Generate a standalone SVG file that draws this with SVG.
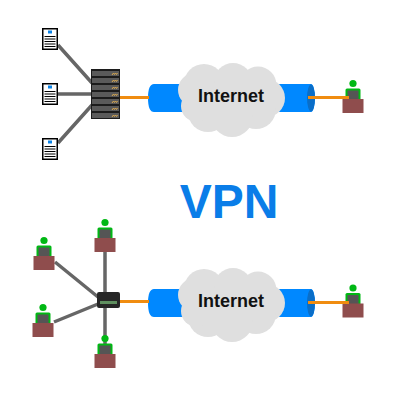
<svg xmlns="http://www.w3.org/2000/svg" width="400" height="400" viewBox="0 0 400 400">
<style>
.link{stroke:#666;stroke-width:3.5;fill:none}
.wan{stroke:#f08c10;stroke-width:3;fill:none}
.t{font-family:"Liberation Sans",Arial,sans-serif;font-weight:bold;text-anchor:middle}
.row{fill:#5a5a5a}
.led{fill:none;stroke:#d8a850;stroke-width:1}
.ln{stroke:#000;stroke-width:1}
</style>
<defs>
<g id="doc">
<rect x="0.75" y="0.75" width="14.5" height="20.5" fill="#fff" stroke="#000" stroke-width="1.5"/>
<rect x="6" y="2.500" width="4" height="3" fill="#0a84e8"/>
<path class="ln" d="M2.500 8.500H13.500M2.500 11H13.500M2.500 13.500H13.500M2.500 16H13.500M2.500 18.500H13.500"/>
</g>
<g id="person">
<circle cx="0" cy="0" r="3.600" fill="#00b814"/>
<path d="M-7.500 16V6.500Q-7.500 5 -6 5H6Q7.500 5 7.500 6.500V16Z" fill="#00b814"/>
<rect x="-5.500" y="7" width="11" height="9" fill="#555"/>
<rect x="-10.500" y="15.500" width="21" height="14" fill="#8f4d4d"/>
</g>
<g id="tunnel">
<path d="M154 84H311A4 14 0 0 1 311 112H154Q148 112 148 98Q148 84 154 84Z" fill="#0088ff"/>
<ellipse cx="311" cy="98" rx="4" ry="13.500" fill="#0a6ec8"/>
<g fill="#dfdfdf">
<circle cx="204" cy="84" r="20"/><circle cx="233" cy="82" r="19"/><circle cx="258" cy="85" r="18.500"/>
<circle cx="266" cy="98" r="19"/><circle cx="256" cy="109" r="20"/><circle cx="232" cy="116" r="21"/>
<circle cx="208" cy="112" r="20"/><circle cx="197" cy="106" r="16"/><circle cx="195" cy="90" r="17"/>
<rect x="200" y="85" width="60" height="30"/>
</g>
<text class="t" x="231" y="102" font-size="18" fill="#111">Internet</text>
</g>
</defs>
<g id="connectors">
<path class="link" d="M58 45L92 83M58 94H92M58 143L92 105"/>
<path class="link" d="M105 252V300M55 262L98 297M54 322L98 304M105 300V345"/>
</g>
<g id="doc1"><use href="#doc" x="42" y="28"/></g>
<g id="doc2"><use href="#doc" x="42" y="83"/></g>
<g id="doc3"><use href="#doc" x="42" y="138"/></g>
<g id="internet1"><use href="#tunnel"/></g>
<g id="internet2"><use href="#tunnel" y="205"/></g>
<g id="person1"><use href="#person" x="353" y="83.500"/></g>
<g id="person2"><use href="#person" x="353" y="288"/></g>
<g id="person3"><use href="#person" x="105" y="222.500"/></g>
<g id="person4"><use href="#person" x="44" y="240.500"/></g>
<g id="person5"><use href="#person" x="43" y="307.500"/></g>
<g id="person6"><use href="#person" x="105" y="338.500"/></g>
<g id="wan-links">
<path class="wan" d="M120 97.500H149"/>
<path class="wan" d="M120 301.500H149"/>
<path class="wan" d="M308 97.500H349"/>
<path class="wan" d="M308 302.500H349"/>
</g>
<g id="server">
<rect x="91" y="69" width="29" height="50" fill="#1c1c1c"/>
<g class="row">
<rect x="92" y="71" width="27" height="5"/><rect x="92" y="78" width="27" height="5"/><rect x="92" y="85" width="27" height="5"/><rect x="92" y="92" width="27" height="5"/><rect x="92" y="99" width="27" height="5"/><rect x="92" y="106" width="27" height="5"/><rect x="92" y="113" width="27" height="5"/>
</g>
<path class="led" d="M112 75l1.500-2 1 1.500 1-1.500 1 1.500 1-1.500M112 82l1.500-2 1 1.500 1-1.500 1 1.500 1-1.500M112 89l1.500-2 1 1.500 1-1.500 1 1.500 1-1.500M112 96l1.500-2 1 1.500 1-1.500 1 1.500 1-1.500M112 103l1.500-2 1 1.500 1-1.500 1 1.500 1-1.500M112 110l1.500-2 1 1.500 1-1.500 1 1.500 1-1.500M112 117l1.500-2 1 1.500 1-1.500 1 1.500 1-1.500"/>
</g>
<g id="switch">
<rect x="97" y="292" width="23" height="16" rx="2" fill="#262626"/>
<rect x="100" y="301" width="17" height="3" fill="#5f8f5f"/>
</g>
<text class="t" x="229" y="218" font-size="48" fill="#0a7de8">VPN</text>
</svg>
